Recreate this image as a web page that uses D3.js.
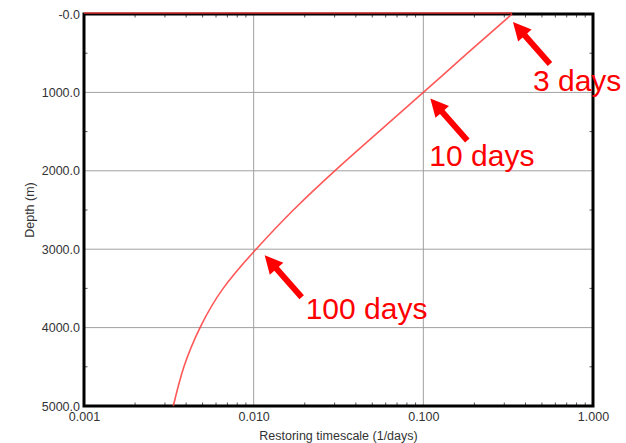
<!DOCTYPE html>
<html>
<head>
<meta charset="utf-8">
<script src="https://cdn.jsdelivr.net/npm/d3@7/dist/d3.min.js"></script>
<style>
  html, body { margin: 0; padding: 0; background: #fff; }
  svg { display: block; }
</style>
</head>
<body>
<svg id="chart" width="626" height="443"></svg>
<script>
// ---- data ----
const depths = [0, 500, 1000, 1500, 2000, 2500, 3000, 3500, 4000, 4500, 5000];
const rates  = [0.3334, 0.182, 0.1, 0.0547, 0.03006, 0.01714, 0.01033, 0.00661, 0.00483, 0.00388, 0.00336];
const surfaceRates = [0.001, 0.333];
const surfaceDepths = [0, 0];
const xTicks = [0.001, 0.01, 0.1, 1];
const xTickLabels = ["0.001", "0.010", "0.100", "1.000"];
const yTicks = [0, 1000, 2000, 3000, 4000, 5000];
const yTickLabels = ["-0.0", "1000.0", "2000.0", "3000.0", "4000.0", "5000.0"];
const annLabels = ["3 days", "10 days", "100 days"];
const annRates  = [0.333, 0.1, 0.01];
const annDepths = [0, 1000, 3000];
const xTitle = "Restoring timescale (1/days)";
const yTitle = "Depth (m)";

// ---- layout ----
const L = 84, R = 593, T = 14, B = 406;
const svg = d3.select("#chart");
const x = d3.scaleLog().domain([0.001, 1]).range([L, R]);
const y = d3.scaleLinear().domain([0, 5000]).range([T, B]);

// grid
const g = svg.append("g");
g.selectAll("line.gx").data(xTicks.slice(1, -1)).join("line")
  .attr("x1", d => x(d)).attr("x2", d => x(d)).attr("y1", T).attr("y2", B)
  .attr("stroke", "#a0a0a0").attr("stroke-width", 1);
g.selectAll("line.gy").data(yTicks.slice(1, -1)).join("line")
  .attr("y1", d => y(d)).attr("y2", d => y(d)).attr("x1", L).attr("x2", R)
  .attr("stroke", "#a0a0a0").attr("stroke-width", 1);

// minor ticks
const xMinor = [];
[0.001, 0.01, 0.1].forEach(dec => { for (let k = 2; k <= 9; k++) xMinor.push(dec * k); });
const yMinor = [500, 1500, 2500, 3500, 4500];
const tl = 3.5;
g.selectAll("line.mxb").data(xMinor).join("line")
  .attr("x1", d => x(d)).attr("x2", d => x(d)).attr("y1", B).attr("y2", B - tl)
  .attr("stroke", "#555").attr("stroke-width", 1);
g.selectAll("line.mxt").data(xMinor).join("line")
  .attr("x1", d => x(d)).attr("x2", d => x(d)).attr("y1", T).attr("y2", T + tl)
  .attr("stroke", "#555").attr("stroke-width", 1);
g.selectAll("line.myl").data(yMinor).join("line")
  .attr("y1", d => y(d)).attr("y2", d => y(d)).attr("x1", L).attr("x2", L + tl)
  .attr("stroke", "#555").attr("stroke-width", 1);
g.selectAll("line.myr").data(yMinor).join("line")
  .attr("y1", d => y(d)).attr("y2", d => y(d)).attr("x1", R).attr("x2", R - tl)
  .attr("stroke", "#555").attr("stroke-width", 1);

// frame
svg.append("rect").attr("x", L).attr("y", T).attr("width", R - L).attr("height", B - T)
  .attr("fill", "none").attr("stroke", "#000").attr("stroke-width", 3);

// axes labels
const font = "'Liberation Sans', Arial, Helvetica, sans-serif";
const yAxis = d3.axisLeft(y).tickValues(yTicks).tickFormat((d, i) => yTickLabels[i]).tickSize(0).tickPadding(4);
const ya = svg.append("g").attr("transform", `translate(${L},0)`).call(yAxis);
ya.select(".domain").remove();
ya.selectAll("text").attr("font-family", font).attr("font-size", 12.5).attr("fill", "#333");

const xAxis = d3.axisBottom(x).tickValues(xTicks).tickFormat((d, i) => xTickLabels[i]).tickSize(0).tickPadding(0);
const xa = svg.append("g").attr("transform", `translate(0,${B + 6})`).call(xAxis);
xa.select(".domain").remove();
xa.selectAll("text").attr("font-family", font).attr("font-size", 12.5).attr("fill", "#333");

svg.append("text").attr("x", (L + R) / 2 - 0).attr("y", 440)
  .attr("text-anchor", "middle").attr("font-family", font).attr("font-size", 12.5).attr("fill", "#333")
  .text(xTitle);
svg.append("text").attr("transform", `translate(34,${(T + B) / 2}) rotate(-90)`)
  .attr("text-anchor", "middle").attr("font-family", font).attr("font-size", 12.5).attr("fill", "#333")
  .text(yTitle);

// curve
const pts = depths.map((d, i) => [rates[i], d]);
const line = d3.line().x(d => x(d[0])).y(d => y(d[1])).curve(d3.curveNatural);
svg.append("path").datum(pts).attr("d", line)
  .attr("fill", "none").attr("stroke", "#ff3b3b").attr("stroke-opacity", 0.85).attr("stroke-width", 1.6);
const surf = surfaceRates.map((r, i) => [r, surfaceDepths[i]]);
svg.append("path").datum(surf).attr("d", d3.line().x(d => x(d[0])).y(d => y(d[1]) - 1))
  .attr("fill", "none").attr("stroke", "#ff3b3b").attr("stroke-opacity", 0.85).attr("stroke-width", 1.6);

// annotations
const tipOff = [[1, 8], [7, 6], [11, 6]];
const textOff = [[20, 69], [-1, 68], [41, 64]];
const arrowVec = [37, 42];
const headLen = 18, headHalf = 9, shaftHalf = 3;
annLabels.forEach((lab, i) => {
  const tx = x(annRates[i]) + tipOff[i][0];
  const ty = y(annDepths[i]) + tipOff[i][1];
  const len = Math.hypot(arrowVec[0], arrowVec[1]);
  const ux = arrowVec[0] / len, uy = arrowVec[1] / len;
  const px = -uy, py = ux;
  const bx = tx + ux * headLen, by = ty + uy * headLen;
  const ex = tx + arrowVec[0], ey = ty + arrowVec[1];
  const p = [
    [tx, ty],
    [bx + px * headHalf, by + py * headHalf],
    [bx + px * shaftHalf, by + py * shaftHalf],
    [ex + px * shaftHalf, ey + py * shaftHalf],
    [ex - px * shaftHalf, ey - py * shaftHalf],
    [bx - px * shaftHalf, by - py * shaftHalf],
    [bx - px * headHalf, by - py * headHalf]
  ];
  svg.append("path").attr("d", "M" + p.map(q => q.join(",")).join("L") + "Z").attr("fill", "#ff0000");
  svg.append("text").attr("x", tx + textOff[i][0]).attr("y", ty + textOff[i][1])
    .attr("font-family", font).attr("font-size", 30).attr("fill", "#ff0000").text(lab);
});
</script>
</body>
</html>
